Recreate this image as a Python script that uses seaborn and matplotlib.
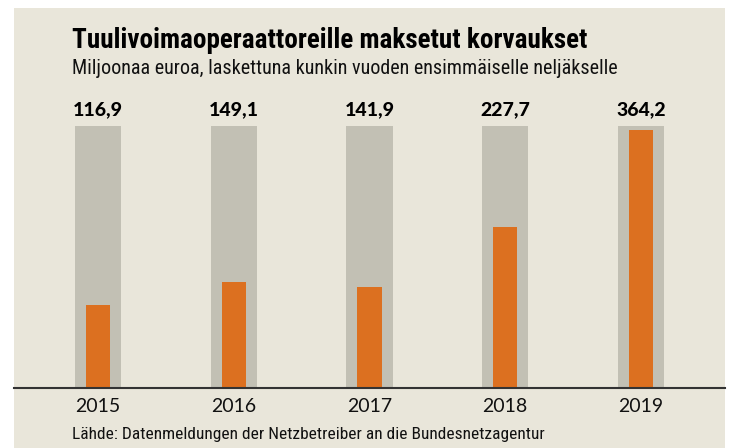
import matplotlib
matplotlib.use("Agg")
import matplotlib.pyplot as plt
import seaborn as sns
from matplotlib import font_manager
from matplotlib.patches import Rectangle

years = ["2015", "2016", "2017", "2018", "2019"]
payments = [116.9, 149.1, 141.9, 227.7, 364.2]
labels = ["116,9", "149,1", "141,9", "227,7", "364,2"]
background = [370, 370, 370, 370, 370]

title = "Tuulivoimaoperaattoreille maksetut korvaukset"
subtitle = "Miljoonaa euroa, laskettuna kunkin vuoden ensimmäiselle neljäkselle"
source = "Lähde: Datenmeldungen der Netzbetreiber an die Bundesnetzagentur"

beige = "#E9E6DA"
grey = "#C2C0B4"
orange = "#DC7020"

sns.set_style("white")
names = {f.name for f in font_manager.fontManager.ttflist}
narrow = [n for n in ["Roboto Condensed", "Liberation Sans Narrow"] if n in names]
plt.rcParams["font.family"] = narrow + ["DejaVu Sans"]

W, H = 729, 448
fig = plt.figure(figsize=(W / 100, H / 100), dpi=100, facecolor="white")
fig.patches.append(Rectangle((14 / W, 0), (725 - 14) / W, 1 - 8 / H,
                             transform=fig.transFigure, facecolor=beige,
                             edgecolor="none", zorder=-10))

# axes: x from 14px to 725px, baseline at 388px from top
ax = fig.add_axes([14 / W, (H - 388) / H, (725 - 14) / W, (388 - 110) / H])
ax.set_facecolor("none")

sns.barplot(x=years, y=background, width=0.34, color=grey, saturation=1,
            linewidth=0, ax=ax)
sns.barplot(x=years, y=payments, width=0.18, color=orange, saturation=1,
            linewidth=0, ax=ax)

for i, lab in enumerate(labels):
    ax.annotate(lab, (i, background[i]), xytext=(0, 5), textcoords="offset points",
                ha="center", va="bottom", fontsize=14, fontweight="black", color="black",
                family=["Lato", "DejaVu Sans"], annotation_clip=False)

ax.set_xlim(-0.62, 4.62)
ax.set_ylim(0, 392)
ax.set_xlabel("")
ax.set_ylabel("")
ax.set_yticks([])
for s in ["top", "left", "right"]:
    ax.spines[s].set_visible(False)
ax.spines["bottom"].set_color("#333333")
ax.spines["bottom"].set_linewidth(1.5)
ax.tick_params(axis="x", length=0, pad=7, labelsize=14, labelcolor="#111111")
for t in ax.get_xticklabels():
    t.set_family(["Lato", "DejaVu Sans"])

fig.text(72 / W, 1 - 40 / H, title, fontsize=19.5, fontweight="bold", va="center", ha="left",
         color="black")
fig.text(72 / W, 1 - 68 / H, subtitle, fontsize=14.5, va="center", ha="left", color="#111111")
fig.text(72 / W, 1 - 434 / H, source, fontsize=12.5, va="center", ha="left", color="#111111")

fig.savefig("out.png", dpi=100, facecolor="white")
